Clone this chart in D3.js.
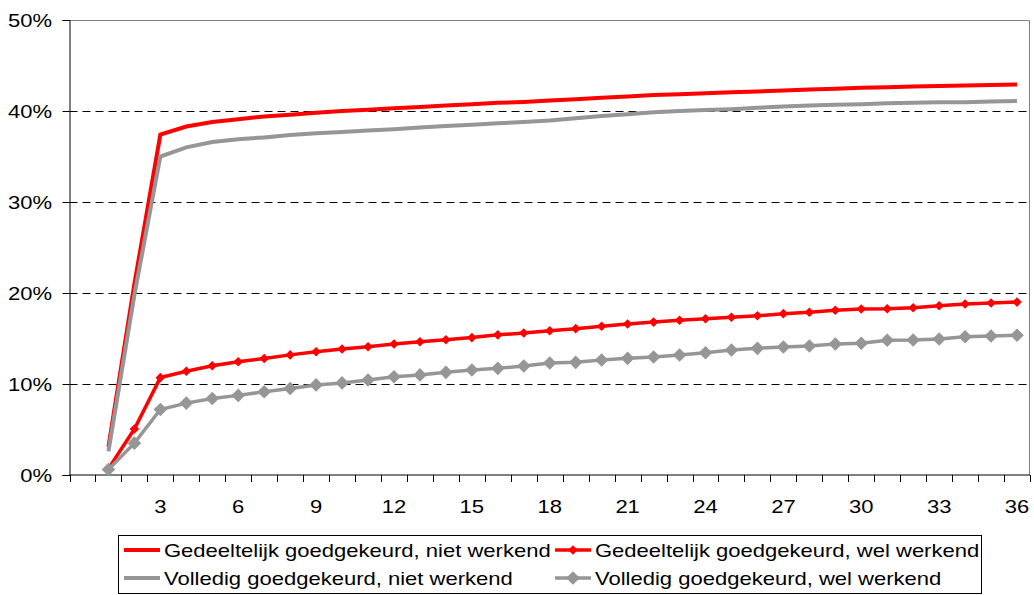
<!DOCTYPE html>
<html>
<head>
<meta charset="utf-8">
<script src="https://cdn.jsdelivr.net/npm/d3@7"></script>
<style>
  body { margin: 0; background: #fff; }
  svg { display: block; font-family: "Liberation Sans", Arial, sans-serif; }
</style>
</head>
<body>
<div id="container"></div>
<script>
// months since start (first slot of the axis is an empty category)
const categories = ["", 1, 2, 3, 4, 5, 6, 7, 8, 9, 10, 11, 12, 13, 14, 15, 16, 17, 18,
    19, 20, 21, 22, 23, 24, 25, 26, 27, 28, 29, 30, 31, 32, 33, 34, 35, 36];
const xTickLabels = [3, 6, 9, 12, 15, 18, 21, 24, 27, 30, 33, 36];
const yTicks = [0, 10, 20, 30, 40, 50];

// values in percent, month 1..36
const gedeeltelijkNiet = [3.1, 21.0, 37.4, 38.3, 38.8, 39.1, 39.4, 39.6, 39.8, 40.0,
    40.15, 40.3, 40.45, 40.6, 40.75, 40.9, 41.0, 41.15, 41.3, 41.45,
    41.6, 41.75, 41.85, 41.95, 42.05, 42.15, 42.25, 42.35, 42.45, 42.55,
    42.6, 42.7, 42.75, 42.8, 42.85, 42.9];
const gedeeltelijkWel = [0.7, 5.05, 10.7, 11.4, 12.0, 12.45, 12.8, 13.2, 13.55, 13.85,
    14.1, 14.4, 14.65, 14.87, 15.1, 15.4, 15.6, 15.85, 16.08, 16.34,
    16.6, 16.8, 17.0, 17.17, 17.33, 17.5, 17.73, 17.88, 18.1, 18.24,
    18.27, 18.38, 18.6, 18.79, 18.9, 19.0];
const volledigNiet = [2.6, 19.8, 35.0, 36.0, 36.6, 36.9, 37.1, 37.35, 37.55, 37.7,
    37.85, 38.0, 38.2, 38.35, 38.5, 38.65, 38.8, 38.95, 39.2, 39.45,
    39.65, 39.85, 40.0, 40.1, 40.2, 40.35, 40.5, 40.6, 40.7, 40.75,
    40.85, 40.9, 40.95, 40.95, 41.05, 41.1];
const volledigWel = [0.6, 3.5, 7.2, 7.9, 8.4, 8.75, 9.15, 9.5, 9.9, 10.12,
    10.44, 10.8, 11.0, 11.28, 11.54, 11.72, 11.98, 12.3, 12.38, 12.64,
    12.82, 12.97, 13.19, 13.44, 13.74, 13.92, 14.07, 14.18, 14.4, 14.47,
    14.8, 14.84, 14.95, 15.2, 15.27, 15.35];

const seriesNames = [
    "Gedeeltelijk goedgekeurd, niet werkend",
    "Gedeeltelijk goedgekeurd, wel werkend",
    "Volledig goedgekeurd, niet werkend",
    "Volledig goedgekeurd, wel werkend"
];

const series = [
    {name: seriesNames[0], values: gedeeltelijkNiet, color: "#ff0000", width: 4, marker: 0},
    {name: seriesNames[1], values: gedeeltelijkWel, color: "#ff0000", width: 3.5, marker: 4.8},
    {name: seriesNames[2], values: volledigNiet, color: "#969696", width: 4, marker: 0},
    {name: seriesNames[3], values: volledigWel, color: "#969696", width: 3.5, marker: 6.8}
];

const W = 1034, H = 595;
const margin = {top: 20, right: 4, bottom: 120, left: 69.5};
const fontSize = 18.5, stretch = 1.19;   // the source text is drawn a little wide

const svg = d3.select("#container").append("svg")
    .attr("width", W)
    .attr("height", H);

// text helper: places a label and widens it horizontally
function label(g, tx, ty, str, anchor) {
    return g.append("text")
        .attr("transform", `translate(${tx},${ty}) scale(${stretch},1)`)
        .attr("text-anchor", anchor || "start")
        .attr("font-size", fontSize)
        .attr("fill", "#000")
        .text(str);
}

const x = d3.scaleBand()
    .domain(categories)
    .range([margin.left, W - margin.right])
    .paddingInner(0).paddingOuter(0);

const y = d3.scaleLinear()
    .domain([0, 50])
    .range([H - margin.bottom, margin.top]);

const x0 = margin.left, x1 = W - margin.right;
const yBase = y(0);

// plot border (top and right)
svg.append("path")
    .attr("d", `M${x0},${y(50) + 0.5}H${x1 - 0.5}V${yBase}`)
    .attr("fill", "none")
    .attr("stroke", "#808080")
    .attr("stroke-width", 1);

// dashed gridlines
svg.append("g")
    .selectAll("line")
    .data(yTicks.filter(d => d > 0 && d < 50))
    .join("line")
    .attr("x1", x0).attr("x2", x1 - 1)
    .attr("y1", d => Math.round(y(d)) + 0.5)
    .attr("y2", d => Math.round(y(d)) + 0.5)
    .attr("stroke", "#000")
    .attr("stroke-width", 1)
    .attr("stroke-dasharray", "8,5");

// y axis
const yAxis = d3.axisLeft(y)
    .tickValues(yTicks)
    .tickFormat("")
    .tickSize(7);

const gy = svg.append("g")
    .attr("transform", `translate(${x0},0)`)
    .call(yAxis)
    .call(g => g.select(".domain").attr("stroke", "#000"))
    .call(g => g.selectAll(".tick line").attr("stroke", "#000"));

yTicks.forEach(t => label(gy, -17.5, y(t) + 6.5, t + "%", "end"));

// x axis: ticks between categories, labels every third month
const gx = svg.append("g");
gx.append("line")
    .attr("x1", x0).attr("x2", x1)
    .attr("y1", yBase).attr("y2", yBase)
    .attr("stroke", "#000");

const boundaries = categories.map(c => x(c)).concat([x1 - 0.5]);
gx.selectAll("line.tick")
    .data(boundaries)
    .join("line")
    .attr("class", "tick")
    .attr("x1", d => Math.round(d) + 0.5).attr("x2", d => Math.round(d) + 0.5)
    .attr("y1", yBase).attr("y2", yBase + 7)
    .attr("stroke", "#000");

xTickLabels.forEach(d => label(gx, x(d) + x.bandwidth() / 2, yBase + 38, d, "middle"));

// series
const months = categories.slice(1);
const line = d3.line()
    .x(d => x(d[0]) + x.bandwidth() / 2)
    .y(d => y(d[1]));

const diamond = r => `M0,${-r}L${r},0L0,${r}L${-r},0Z`;

series.forEach(s => {
    const pts = months.map((m, i) => [m, s.values[i]]);
    const g = svg.append("g");
    g.append("path")
        .datum(pts)
        .attr("d", line)
        .attr("fill", "none")
        .attr("stroke", s.color)
        .attr("stroke-width", s.width)
        .attr("stroke-linejoin", "miter");
    if (s.marker) {
        g.selectAll("path.m")
            .data(pts)
            .join("path")
            .attr("class", "m")
            .attr("d", diamond(s.marker))
            .attr("transform", d => `translate(${x(d[0]) + x.bandwidth() / 2},${y(d[1])})`)
            .attr("fill", s.color);
    }
});

// legend
const legend = svg.append("g");
legend.append("rect")
    .attr("x", 118.5).attr("y", 535.5)
    .attr("width", 863).attr("height", 58)
    .attr("fill", "#fff")
    .attr("stroke", "#000")
    .attr("stroke-width", 1);

const legendPos = [
    {x: 124, y: 550},
    {x: 555, y: 550},
    {x: 124, y: 578},
    {x: 555, y: 578}
];

series.forEach((s, i) => {
    const p = legendPos[i];
    legend.append("line")
        .attr("x1", p.x).attr("x2", p.x + 36)
        .attr("y1", p.y).attr("y2", p.y)
        .attr("stroke", s.color)
        .attr("stroke-width", s.width);
    if (s.marker) {
        legend.append("path")
            .attr("d", diamond(s.marker))
            .attr("transform", `translate(${p.x + 18},${p.y})`)
            .attr("fill", s.color);
    }
    label(legend, p.x + 40, p.y + 6.5, s.name);
});
</script>
</body>
</html>
